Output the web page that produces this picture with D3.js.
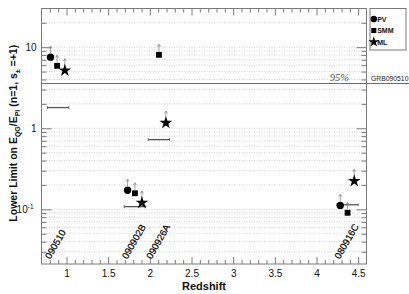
<!DOCTYPE html>
<html><head><meta charset="utf-8">
<script src="https://cdn.jsdelivr.net/npm/d3@7"></script>
<style>
html,body{margin:0;padding:0;background:#fff;}
svg{display:block;font-family:"Liberation Sans",Arial,sans-serif;}
</style></head>
<body>
<svg id="c" width="409" height="294"></svg>
<script>
// ---- data ----
const seriesNames = ["PV", "SMM", "ML"];
const pvX = [0.808, 1.733, 4.285];
const pvY = [7.53, 0.172, 0.112];
const smmX = [0.887, 1.821, 2.109, 4.373];
const smmY = [5.89, 0.158, 8.05, 0.0908];
const mlX = [0.98, 1.905, 2.193, 4.453];
const mlY = [5.16, 0.1206, 1.166, 0.2236];
// horizontal bars (redshift ranges)
const barX0 = [0.772, 1.692, 1.981, 4.245];
const barX1 = [1.028, 1.95, 2.238, 4.5];
const barY = [1.80, 0.108, 0.725, 0.114];
// GRB labels
const grbNames = ["090510", "090902B", "090926A", "080916C"];
const grbLabelX = [0.806, 1.728, 2.02, 4.28];
const grbLabelY = 0.024;
const limit95 = 3.56;
const xMajorTicks = [1, 1.5, 2, 2.5, 3, 3.5, 4, 4.5];
const xMinorTicks = [0.8,0.9,1.1,1.2,1.3,1.4,1.6,1.7,1.8,1.9,2.1,2.2,2.3,2.4,2.6,2.7,2.8,2.9,3.1,3.2,3.3,3.4,3.6,3.7,3.8,3.9,4.1,4.2,4.3,4.4];
const yMajorTicks = [0.1, 1, 10];
const yMajorLabels = ["10^-1", "1", "10"];
const yMinorTicks = [0.03,0.04,0.05,0.06,0.07,0.08,0.09,0.2,0.3,0.4,0.5,0.6,0.7,0.8,0.9,2,3,4,5,6,7,8,9,20];

// ---- layout ----
const L = 41.5, R = 366.5, T = 8.5, B = 264;
const svg = d3.select("#c");
const x = d3.scaleLinear().domain([0.7, 4.6]).range([L, R]);
const y = d3.scaleLog().domain([0.0212, 30]).range([B, T]);

const axisCol = "#7a7a7a";

// grid
const gridVals = yMajorTicks.concat(yMinorTicks);
svg.append("g").selectAll("line").data(gridVals).join("line")
  .attr("x1", L).attr("x2", R)
  .attr("y1", d => y(d)).attr("y2", d => y(d))
  .attr("stroke", "#c4c4c4").attr("stroke-width", 0.8).attr("stroke-dasharray", "1,1.5");

function styleAxis(g) {
  g.select(".domain").remove();
  g.selectAll(".tick line").attr("stroke", axisCol).attr("stroke-width", 1);
  g.selectAll(".tick text").attr("fill", "#111").attr("font-size", "10px")
    .attr("font-family", '"Liberation Sans",Arial,sans-serif');
}
// bottom axis
svg.append("g").attr("transform", `translate(0,${B})`)
  .call(d3.axisBottom(x).tickValues(xMajorTicks).tickSize(-7).tickPadding(6).tickFormat(d3.format("")))
  .call(styleAxis);
svg.append("g").attr("transform", `translate(0,${B})`)
  .call(d3.axisBottom(x).tickValues(xMinorTicks).tickSize(-4).tickFormat(""))
  .call(styleAxis);
// top axis
svg.append("g").attr("transform", `translate(0,${T})`)
  .call(d3.axisTop(x).tickValues(xMajorTicks).tickSize(-7).tickFormat(""))
  .call(styleAxis);
svg.append("g").attr("transform", `translate(0,${T})`)
  .call(d3.axisTop(x).tickValues(xMinorTicks).tickSize(-4).tickFormat(""))
  .call(styleAxis);
// left axis
const yl = svg.append("g").attr("transform", `translate(${L},0)`)
  .call(d3.axisLeft(y).tickValues(yMajorTicks).tickSize(-10).tickPadding(5).tickFormat(""))
  .call(styleAxis);
yl.selectAll(".tick text").each(function(d, i) {
  const lab = yMajorLabels[i];
  const t = d3.select(this).attr("dy", "0.36em");
  if (lab.includes("^")) {
    const [base, ex] = lab.split("^");
    t.attr("dx", "-3px");
    t.append("tspan").text(base);
    t.append("tspan").attr("dy", "-4").attr("font-size", "6.5px").text(ex);
  } else {
    t.text(lab);
  }
});
svg.append("g").attr("transform", `translate(${L},0)`)
  .call(d3.axisLeft(y).tickValues(yMinorTicks).tickSize(-5).tickFormat(""))
  .call(styleAxis);
// right axis
svg.append("g").attr("transform", `translate(${R},0)`)
  .call(d3.axisRight(y).tickValues(yMajorTicks).tickSize(-10).tickFormat(""))
  .call(styleAxis);
svg.append("g").attr("transform", `translate(${R},0)`)
  .call(d3.axisRight(y).tickValues(yMinorTicks).tickSize(-5).tickFormat(""))
  .call(styleAxis);
// frame
svg.append("rect").attr("x", L).attr("y", T).attr("width", R - L).attr("height", B - T)
  .attr("fill", "none").attr("stroke", axisCol).attr("stroke-width", 1);

// 95% line
svg.append("line").attr("x1", L).attr("x2", 409)
  .attr("y1", y(limit95)).attr("y2", y(limit95))
  .attr("stroke", "#666").attr("stroke-width", 1);
svg.append("text").attr("x", 349).attr("y", y(limit95) - 2.5)
  .attr("text-anchor", "end").attr("font-family", '"Liberation Serif","Times New Roman",serif')
  .attr("font-style", "italic").attr("font-size", "10.5px").attr("fill", "#555").text("95%");
svg.append("text").attr("x", 371).attr("y", y(limit95) - 2.5)
  .attr("font-size", "6.8px").attr("fill", "#222").text("GRB090510");

// bars
const bars = barY.map((v, i) => ({x0: barX0[i], x1: barX1[i], y: v}));
const bg = svg.append("g").attr("stroke", "#555").attr("stroke-width", 1.3);
bars.forEach(b => {
  bg.append("line").attr("x1", x(b.x0)).attr("x2", x(b.x1)).attr("y1", y(b.y)).attr("y2", y(b.y));
  bg.append("line").attr("x1", x(b.x0)).attr("x2", x(b.x0)).attr("y1", y(b.y) - 1.5).attr("y2", y(b.y) + 1.5).attr("stroke-width", 0.8);
  bg.append("line").attr("x1", x(b.x1)).attr("x2", x(b.x1)).attr("y1", y(b.y) - 1.5).attr("y2", y(b.y) + 1.5).attr("stroke-width", 0.8);
});

// markers
const symCircle = d3.symbol().type(d3.symbolCircle).size(42);
const symSquare = d3.symbol().type(d3.symbolSquare).size(34);
const symStar = d3.symbol().type(d3.symbolStar).size(50);
const series = [
  {name: seriesNames[0], xs: pvX, ys: pvY, sym: symCircle, r: 3.6},
  {name: seriesNames[1], xs: smmX, ys: smmY, sym: symSquare, r: 3},
  {name: seriesNames[2], xs: mlX, ys: mlY, sym: symStar, r: 4.3}
];
const ag = svg.append("g").attr("stroke", "#888").attr("fill", "none").attr("stroke-width", 0.8);
series.forEach(s => {
  const pts = s.xs.map((v, i) => ({x: v, y: s.ys[i]}));
  pts.forEach(p => {
    const px = x(p.x), py = y(p.y);
    const top = py - s.r - 7.5;
    ag.append("line").attr("x1", px).attr("x2", px).attr("y1", py - s.r - 0.5).attr("y2", top);
    ag.append("path").attr("d", `M${px - 1.6},${top + 2.4}L${px},${top}L${px + 1.6},${top + 2.4}`);
  });
  svg.append("g").selectAll("path").data(pts).join("path")
    .attr("transform", p => `translate(${x(p.x)},${y(p.y)})`)
    .attr("d", s.sym).attr("fill", "#000");
});

// GRB labels
grbNames.forEach((n, i) => {
  svg.append("text")
    .attr("transform", `translate(${x(grbLabelX[i])},${y(grbLabelY)}) rotate(-60)`)
    .attr("font-size", "9.5px").attr("fill", "#000").attr("stroke", "#000").attr("stroke-width", 0.2).text(n);
});

// legend
const lgX = 370, lgY = 8.5, lgW = 36, lgH = 41.5;
svg.append("rect").attr("x", lgX).attr("y", lgY).attr("width", lgW).attr("height", lgH)
  .attr("fill", "#fff").attr("stroke", axisCol).attr("stroke-width", 1);
const lsyms = [d3.symbol().type(d3.symbolCircle).size(32), d3.symbol().type(d3.symbolSquare).size(26), d3.symbol().type(d3.symbolStar).size(36)];
seriesNames.forEach((n, i) => {
  const cy = lgY + 10.5 + i * 11.5;
  svg.append("path").attr("transform", `translate(${lgX + 3.8},${cy})`).attr("d", lsyms[i]).attr("fill", "#000");
  svg.append("text").attr("x", lgX + 7.2).attr("y", cy + 2.6).attr("font-size", "7px")
    .attr("font-weight", "bold").attr("fill", "#111").text(n);
});

// axis titles
svg.append("text").attr("x", (L + R) / 2).attr("y", 290).attr("text-anchor", "middle")
  .attr("font-size", "11px").attr("font-weight", "bold").attr("fill", "#111").text("Redshift");
const yt = svg.append("text").attr("transform", `translate(17,${(T + B) / 2 - 3}) rotate(-90)`)
  .attr("text-anchor", "middle").attr("font-size", "10.5px").attr("font-weight", "bold").attr("fill", "#111");
yt.append("tspan").text("Lower Limit on E");
yt.append("tspan").attr("dy", 2.5).attr("font-size", "7px").text("QG");
yt.append("tspan").attr("dy", -2.5).text("/E");
yt.append("tspan").attr("dy", 2.5).attr("font-size", "7px").text("Pl");
yt.append("tspan").attr("dy", -2.5).text(" (n=1, s");
yt.append("tspan").attr("dy", 2.5).attr("font-size", "7px").text("±");
yt.append("tspan").attr("dy", -2.5).text(" =+1)");
</script>
</body></html>
